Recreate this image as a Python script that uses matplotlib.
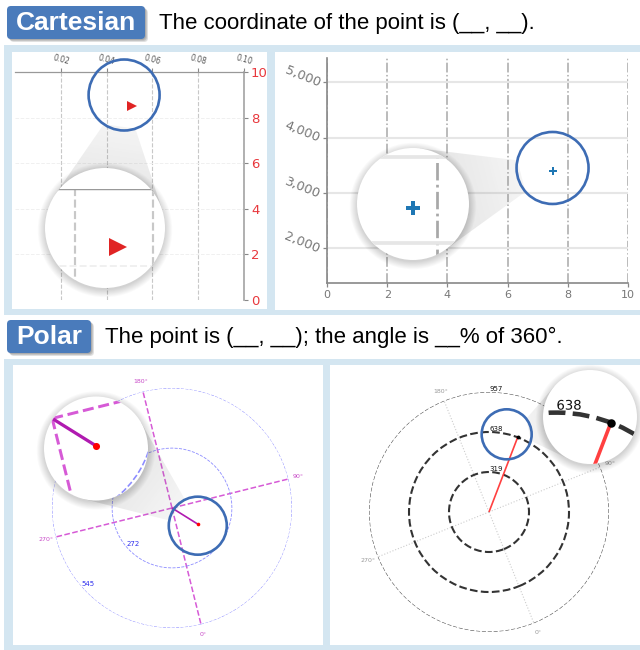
import numpy as np
import matplotlib
matplotlib.use('Agg')
import matplotlib.pyplot as plt
import matplotlib.patheffects as pe
from matplotlib.patches import Circle, Rectangle, FancyBboxPatch, Polygon
from matplotlib.text import Text

W, H = 640, 650

# --- Cartesian, left panel ---
tl_x = [0.051]
tl_y = [8.5]
tl_xticks = [0.02, 0.04, 0.06, 0.08, 0.10]
tl_xlabels = ['0.02', '0.04', '0.06', '0.08', '0.10']
tl_yticks = [0, 2, 4, 6, 8, 10]
tl_ylabels = ['0', '2', '4', '6', '8', '10']

# --- Cartesian, right panel ---
tr_x = [7.5]
tr_y = [3400]
tr_xticks = [0, 2, 4, 6, 8, 10]
tr_xlabels = ['0', '2', '4', '6', '8', '10']
tr_yticks = [2000, 3000, 4000, 5000]
tr_ylabels = ['2,000', '3,000', '4,000', '5,000']

# --- Polar, left panel ---
bl_theta = [44]
bl_r = [137]
bl_angles = [0, 90, 180, 270]
bl_angle_labels = ['0°', '90°', '180°', '270°']
bl_rings = [272, 545]
bl_ring_labels = ['272', '545']

# --- Polar, right panel ---
br_theta = [137]
br_r = [638]
br_angles = [0, 90, 180, 270]
br_angle_labels = ['0°', '90°', '180°', '270°']
br_rings = [319, 638, 957]
br_ring_labels = ['319', '638', '957']

header_titles = ['Cartesian', 'Polar']
header_texts = ['The coordinate of the point is (__, __).',
                'The point is (__, __); the angle is __% of 360°.']


def px_box(x0, y0, x1, y1):
    return [x0 / W, 1 - y1 / H, (x1 - x0) / W, (y1 - y0) / H]


def scaled_box(box, c, z, m):
    x0, y0, x1, y1 = box
    return (z[0] + m * (x0 - c[0]), z[1] + m * (y0 - c[1]),
            z[0] + m * (x1 - c[0]), z[1] + m * (y1 - c[1]))


def pixel_ax(ax):
    ax.set_xlim(0, W)
    ax.set_ylim(H, 0)
    ax.axis('off')
    ax.patch.set_visible(False)


def to_px(ax, x, y):
    dx, dy = ax.transData.transform((x, y))
    return np.array([dx, H - dy])


def draw_tl(ax, s=1.0, w=1.0):
    ax.plot(tl_x, tl_y, ls='none', marker='>', ms=6.5 * w, color='#e02424', mew=0)
    ax.set_xlim(0, 0.1)
    ax.set_ylim(0, 10)
    ax.xaxis.tick_top()
    ax.yaxis.tick_right()
    ax.set_xticks(tl_xticks, tl_xlabels)
    ax.set_yticks(tl_yticks, tl_ylabels)
    ax.tick_params(axis='x', labelsize=5.5 * s, labelcolor='#555555', labelrotation=-15,
                   length=3 * s, width=0.8 * w, color='#888888', pad=1.0 * s)
    ax.tick_params(axis='y', labelsize=9.5 * s, labelcolor='#e8383d',
                   length=3 * s, width=0.8 * w, color='#888888', pad=2 * s)
    ax.spines['left'].set_visible(False)
    ax.spines['bottom'].set_visible(False)
    ax.spines['top'].set_color('#999999')
    ax.spines['top'].set_linewidth(0.9 * w)
    ax.spines['right'].set_color('#aaaaaa')
    ax.spines['right'].set_linewidth(1.3 * w)
    ax.grid(axis='x', color='#c8c8c8', ls='--', lw=0.8 * w)
    ax.grid(axis='y', color='#f0f0f0', ls='--', lw=0.7 * w)
    ax.set_axisbelow(True)
    ax.patch.set_visible(False)


def draw_tr(ax, s=1.0, w=1.0):
    ax.plot(tr_x, tr_y, ls='none', marker='P', ms=6 * w, color='#1f77b4', mew=0)
    ax.set_xlim(0, 10)
    ax.set_ylim(1370, 5440)
    ax.set_xticks(tr_xticks, tr_xlabels)
    ax.set_yticks(tr_yticks, tr_ylabels)
    ax.tick_params(axis='x', labelsize=8 * s, labelcolor='#777777',
                   length=3 * s, width=0.9 * w, color='#888888', pad=2 * s)
    ax.tick_params(axis='y', labelsize=9.3 * s, labelcolor='#777777', labelrotation=-22,
                   length=3 * s, width=0.9 * w, color='#888888', pad=2 * s)
    for lab in ax.get_yticklabels():
        lab.set_rotation_mode('anchor')
    ax.spines['top'].set_visible(False)
    ax.spines['right'].set_visible(False)
    for side in ['left', 'bottom']:
        ax.spines[side].set_color('#888888')
        ax.spines[side].set_linewidth(1.2 * w)
    ax.grid(axis='x', color='#a8a8a8', ls='-.', lw=1.1 * w)
    ax.grid(axis='y', color='#e6e6e6', ls='-', lw=1.5 * w)
    ax.set_axisbelow(True)
    ax.patch.set_visible(False)


def draw_bl(ax, s=1.0, w=1.0):
    ax.set_theta_offset(np.deg2rad(-76))
    ax.set_theta_direction(1)
    ax.set_ylim(0, 545)
    ax.set_xticks(np.deg2rad(bl_angles))
    ax.set_xticklabels([])
    ax.set_yticks(bl_rings)
    ax.set_yticklabels([])
    ax.tick_params(length=0)
    ax.grid(axis='x', color='#d65ad6', ls='--', lw=1.1 * w)
    ax.grid(axis='y', color='#8c8cff', ls='--', lw=0.6 * w)
    ax.spines['polar'].set_visible(False)
    ax.patch.set_visible(False)
    th = np.deg2rad(bl_theta)
    ax.vlines(th, 0, bl_r, color='#b01ab0', lw=1.2 * w)
    ax.plot(th, bl_r, ls='none', marker='o', ms=2.6 * w, color='red', mew=0)
    for a, lab in zip(bl_angles, bl_angle_labels):
        ax.text(np.deg2rad(a), 545 * 1.085, lab, ha='center', va='center',
                fontsize=4.5 * s, color='#c84ac8')
    for rr, lab in zip(bl_rings, bl_ring_labels):
        ax.text(np.deg2rad(297), rr, lab, ha='left', va='bottom',
                fontsize=5 * s, color='#3030ee')


def draw_br(ax, s=1.0, w=1.0):
    ax.set_theta_offset(np.deg2rad(-68))
    ax.set_theta_direction(1)
    ax.set_ylim(0, 957)
    ax.set_xticks(np.deg2rad(br_angles))
    ax.set_xticklabels([])
    ax.set_yticks(br_rings)
    ax.set_yticklabels([])
    ax.tick_params(length=0)
    ax.grid(axis='x', color='#cccccc', ls=':', lw=0.8 * w)
    ax.grid(axis='y', color='#333333', ls='--', lw=1.5 * w)
    gl = ax.yaxis.get_gridlines()
    gl[-1].set_linewidth(0.8 * w)
    gl[-1].set_color('#555555')
    ax.spines['polar'].set_visible(False)
    ax.patch.set_visible(False)
    th = np.deg2rad(br_theta)
    ax.vlines(th, 0, br_r, color='#ff4040', lw=1.2 * w)
    ax.plot(th, br_r, ls='none', marker='o', ms=2.8 * w, color='black', mew=0)
    for a, lab in zip(br_angles, br_angle_labels):
        ax.text(np.deg2rad(a), 957 * 1.085, lab, ha='center', va='center',
                fontsize=4.5 * s, color='#999999')
    for rr, lab in zip(br_rings, br_ring_labels):
        ax.text(np.deg2rad(158), rr, lab, ha='left', va='bottom',
                fontsize=5 * s, color='#111111')


yy, xx = np.mgrid[0:H, 0:W] + 0.5


def draw_cone(ov, c, r, z, R):
    d = z - c
    dist = np.hypot(*d)
    u = d / dist
    n = np.array([-u[1], u[0]])
    half = 0.45 * r
    base = np.sqrt(r ** 2 - half ** 2)
    corners = []
    for sgn in (1, -1):
        p = c + base * u + sgn * half * n
        D = p - z
        a = np.arccos(R / np.hypot(*D))
        b = np.arctan2(D[1], D[0])
        cands = [z + R * np.array([np.cos(b + k * a), np.sin(b + k * a)]) for k in (1, -1)]
        t = max(cands, key=lambda q: sgn * np.dot(q - z, n))
        corners.append((p, t))
    poly = Polygon([corners[0][0], corners[0][1], corners[1][1], corners[1][0]],
                   closed=True, fc='none', ec='none', transform=ov.transData)
    ov.add_patch(poly)
    tt = np.clip(((xx - c[0]) * u[0] + (yy - c[1]) * u[1]) / dist, 0, 1)
    rgba = np.zeros((H, W, 4))
    rgba[..., :3] = 0.45
    rgba[..., 3] = 0.03 + 0.2 * tt
    im = ov.imshow(rgba, extent=(0, W, H, 0), origin='upper', aspect='auto',
                   interpolation='nearest', zorder=1)
    im.set_clip_path(poly)


fig = plt.figure(figsize=(W / 100, H / 100), dpi=100)

# backgrounds and headers
bg = fig.add_axes([0, 0, 1, 1], zorder=0)
pixel_ax(bg)
strip = '#d4e6f1'
bg.add_patch(Rectangle((4, 45), W - 4, 270, fc=strip, ec='none'))
bg.add_patch(Rectangle((12, 52), 255, 257, fc='white', ec='none'))
bg.add_patch(Rectangle((275, 52), W - 275, 258, fc='white', ec='none'))
bg.add_patch(Rectangle((4, 359), W - 4, H - 359, fc=strip, ec='none'))
bg.add_patch(Rectangle((13, 365), 310, 280, fc='white', ec='none'))
bg.add_patch(Rectangle((330, 365), W - 330, 280, fc='white', ec='none'))

for (x0, y0, x1, y1), title, text in zip([(7, 6, 145, 39), (7, 320, 91, 353)],
                                         header_titles, header_texts):
    for k in range(3):
        bg.add_patch(FancyBboxPatch((x0 + 1 + k, y0 + 1 + k), x1 - x0, y1 - y0,
                                    boxstyle='round,pad=0,rounding_size=4',
                                    fc='black', ec='none', alpha=0.12))
    bg.add_patch(FancyBboxPatch((x0, y0), x1 - x0, y1 - y0,
                                boxstyle='round,pad=0,rounding_size=4',
                                fc='#4a7bbb', ec='none'))
    bg.text((x0 + x1) / 2, (y0 + y1) / 2 + 0.5, title, ha='center', va='center',
            color='white', fontsize=19, fontweight='bold', family='Liberation Sans')
    bg.text(x1 + 14, (y0 + y1) / 2 + 0.5, text, ha='left', va='center',
            color='black', fontsize=16, family='Liberation Sans')

# main charts
tl_box = (15, 72, 244, 300)
tr_box = (327, 58, 628, 283)
bl_box = (52, 388, 292, 628)
br_box = (369, 392, 609, 632)

ax_tl = fig.add_axes(px_box(*tl_box), zorder=1)
draw_tl(ax_tl)
ax_tr = fig.add_axes(px_box(*tr_box), zorder=1)
draw_tr(ax_tr)
ax_bl = fig.add_axes(px_box(*bl_box), projection='polar', zorder=1)
draw_bl(ax_bl)
ax_br = fig.add_axes(px_box(*br_box), projection='polar', zorder=1)
draw_br(ax_br)

# lens (centre offset from point, radius), zoom circle (centre, radius), magnification
zooms = [
    (to_px(ax_tl, tl_x[0], tl_y[0]) + [-7.7, -11.2], 35.5, (105, 228), 60, 1.7, tl_box, draw_tl, None),
    (to_px(ax_tr, tr_x[0], tr_y[0]) + [-0.2, -2.8], 36, (413, 204), 56, 1.55, tr_box, draw_tr, None),
    (to_px(ax_bl, np.deg2rad(bl_theta[0]), bl_r[0]) + [0.2, 1.7], 29, (96, 448.5), 52, 1.7, bl_box, draw_bl, 'polar'),
    (to_px(ax_br, np.deg2rad(br_theta[0]), br_r[0]) + [-11, -3], 25, (590, 417), 47, 1.9, br_box, draw_br, 'polar'),
]

ov = fig.add_axes([0, 0, 1, 1], zorder=2)
zoom_axes = []
for c, r, z, R, m, box, fn, proj in zooms:
    z = np.array(z, dtype=float)
    draw_cone(ov, c, r, z, R)
    for k in range(9):
        ov.add_patch(Circle((z[0], z[1] + 2), R + 0.9 * k, fc='black', ec='none',
                            alpha=0.018, zorder=2))
    ov.add_patch(Circle(z, R, fc='white', ec='none', zorder=3))
    ov.add_patch(Circle(c, r, fill=False, ec='#3d6cb4', lw=1.9, zorder=4))
    zax = fig.add_axes(px_box(*scaled_box(box, c, z, m)), projection=proj, zorder=3)
    fn(zax, s=m, w=m * 1.15)
    zoom_axes.append((zax, z, R))
pixel_ax(ov)

fig.canvas.draw()
renderer = fig.canvas.get_renderer()
for zax, z, R in zoom_axes:
    clip = Circle(z, R, transform=ov.transData)
    cx, cy = z[0], H - z[1]
    for art in zax.findobj():
        if art is zax:
            continue
        art.set_clip_on(True)
        art.set_clip_path(clip)
        if isinstance(art, Text):
            bb = art.get_window_extent(renderer)
            # nearest point of the text box to the lens centre
            nx = min(max(cx, bb.x0), bb.x1)
            ny = min(max(cy, bb.y0), bb.y1)
            if not art.get_text() or np.hypot(nx - cx, ny - cy) > R:
                art.set_visible(False)
            # Agg ignores clip paths on plain text, so draw text as paths
            art.set_path_effects([pe.Normal()])
    zax.patch.set_visible(False)

fig.savefig('out.png', dpi=100)
